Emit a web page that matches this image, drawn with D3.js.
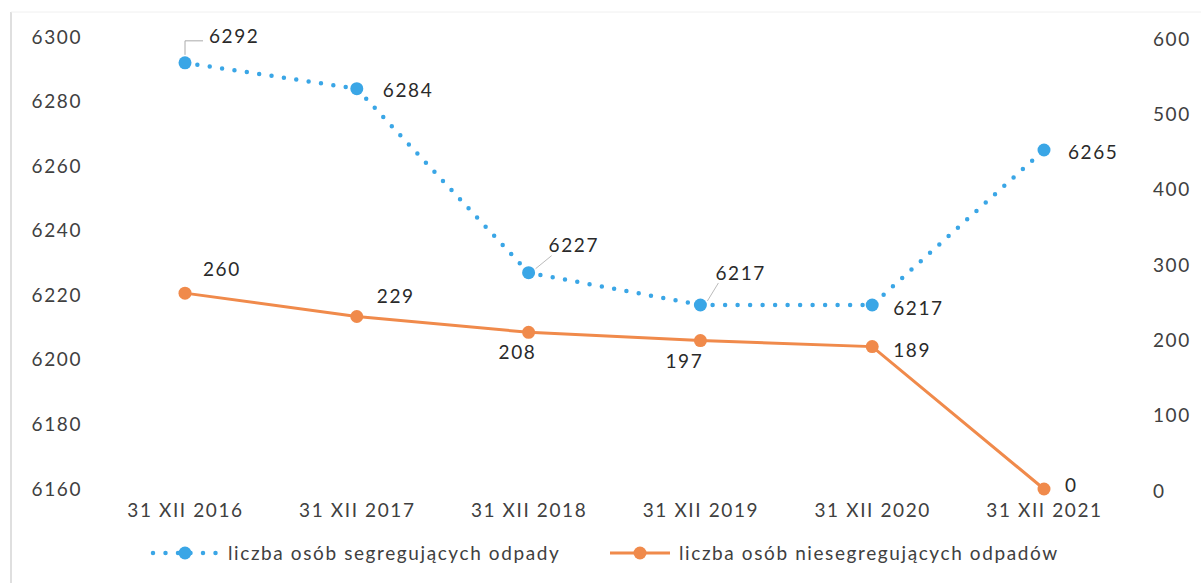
<!DOCTYPE html>
<html>
<head>
<meta charset="utf-8">
<script src="https://cdn.jsdelivr.net/npm/d3@7"></script>
<style>
  body { margin: 0; background: #fff; }
  svg text { font-family: Lato, "Open Sans", sans-serif; letter-spacing: 1.6px; }
</style>
</head>
<body>
<div class="chart"></div>
<script>
// data
const dates = ["31 XII 2016", "31 XII 2017", "31 XII 2018", "31 XII 2019", "31 XII 2020", "31 XII 2021"];
const segregating = [6292, 6284, 6227, 6217, 6217, 6265];
const notSegregating = [260, 229, 208, 197, 189, 0];
const leftTicks = [6160, 6180, 6200, 6220, 6240, 6260, 6280, 6300];
const rightTicks = [0, 100, 200, 300, 400, 500, 600];
const seriesNames = ["liczba osób segregujących odpady", "liczba osób niesegregujących odpadów"];

// label offsets (dx, dy) relative to the point, and whether a leader line is drawn
const blueLabelPos = [[24, -26, true], [26, 2, false], [20, -27, true], [15, -32, true], [21, 3, false], [24, 2, false]];
const orangeLabelPos = [[18, -24], [20, -20], [-30, 20], [-35, 21], [21, 4], [21, -4]];

const width = 1201, height = 583;
const blue = "#3aa6e6", orange = "#f08a4b", textCol = "#404040";

const svg = d3.select(".chart").append("svg")
  .attr("width", width)
  .attr("height", height);

// scanned frame edges
svg.append("line").attr("x1", 11).attr("x2", 11).attr("y1", 12).attr("y2", 583)
  .style("stroke", "#d4d4d4").style("stroke-width", 1.5);
svg.append("line").attr("x1", 11).attr("x2", 1201).attr("y1", 12).attr("y2", 12)
  .style("stroke", "#f0f0f0").style("stroke-width", 1);

const x = d3.scalePoint().domain(dates).range([185, 1044]);
const yL = d3.scaleLinear().domain([6160, 6300]).range([489, 37]);
const yR = d3.scaleLinear().domain([0, 600]).range([489, 37]);

// left axis
const leftAxis = svg.append("g")
  .attr("transform", "translate(82,0)")
  .call(d3.axisLeft(yL).tickValues(leftTicks).tickFormat(d3.format("d")).tickSize(0).tickPadding(0));
leftAxis.select(".domain").remove();
leftAxis.selectAll("text").style("font-size", "19px").style("fill", textCol);

// right axis
const rightAxis = svg.append("g")
  .attr("transform", "translate(1153,2)")
  .call(d3.axisRight(yR).tickValues(rightTicks).tickSize(0).tickPadding(0));
rightAxis.select(".domain").remove();
rightAxis.selectAll("text").style("font-size", "19px").style("fill", textCol);

// category axis
const bottomAxis = svg.append("g")
  .attr("transform", "translate(0,503)")
  .call(d3.axisBottom(x).tickSize(0).tickPadding(0));
bottomAxis.select(".domain").remove();
bottomAxis.selectAll("text").style("font-size", "19px").style("fill", textCol);

// orange line
const orangeLine = d3.line().x((d, i) => x(dates[i])).y(d => yR(d));
svg.append("path")
  .datum(notSegregating)
  .attr("d", orangeLine)
  .attr("fill", "none")
  .style("stroke", orange)
  .style("stroke-width", 3);

svg.selectAll(".orange-dot")
  .data(notSegregating)
  .join("circle")
  .attr("class", "orange-dot")
  .attr("cx", (d, i) => x(dates[i]))
  .attr("cy", d => yR(d))
  .attr("r", 6.5)
  .attr("fill", orange);

// blue dotted line
const blueLine = d3.line().x((d, i) => x(dates[i])).y(d => yL(d));
svg.append("path")
  .datum(segregating)
  .attr("d", blueLine)
  .attr("fill", "none")
  .style("stroke", blue)
  .style("stroke-width", 4.5)
  .style("stroke-linecap", "round")
  .style("stroke-dasharray", "0 12.5");

svg.selectAll(".blue-dot")
  .data(segregating)
  .join("circle")
  .attr("class", "blue-dot")
  .attr("cx", (d, i) => x(dates[i]))
  .attr("cy", d => yL(d))
  .attr("r", 6.5)
  .attr("fill", blue);

// leader lines for blue labels
segregating.forEach((v, i) => {
  const p = blueLabelPos[i];
  if (!p[2]) return;
  const px = x(dates[i]), py = yL(v);
  if (i === 0) {
    svg.append("path")
      .attr("d", `M${px},${py - 8} V${py + p[1] + 4} H${px + p[0] - 6}`)
      .attr("fill", "none").style("stroke", "#aaa").style("stroke-width", 1);
  } else {
    svg.append("line")
      .attr("x1", px + 7).attr("y1", py - 4)
      .attr("x2", px + p[0] + 3).attr("y2", py + p[1] + 10)
      .style("stroke", "#bbb").style("stroke-width", 1);
  }
});

// data labels
svg.selectAll(".blue-label")
  .data(segregating)
  .join("text")
  .attr("class", "blue-label")
  .attr("x", (d, i) => x(dates[i]) + blueLabelPos[i][0])
  .attr("y", (d, i) => yL(d) + blueLabelPos[i][1])
  .attr("dy", "0.35em")
  .style("font-size", "19px")
  .style("fill", "#2a2a2a")
  .text(d => d);

svg.selectAll(".orange-label")
  .data(notSegregating)
  .join("text")
  .attr("class", "orange-label")
  .attr("x", (d, i) => x(dates[i]) + orangeLabelPos[i][0])
  .attr("y", (d, i) => yR(d) + orangeLabelPos[i][1])
  .attr("dy", "0.35em")
  .style("font-size", "19px")
  .style("fill", "#2a2a2a")
  .text(d => d);

// legend
const legend = svg.append("g").attr("transform", "translate(0,553)");
legend.append("line")
  .attr("x1", 153).attr("x2", 218).attr("y1", 0).attr("y2", 0)
  .style("stroke", blue).style("stroke-width", 4.5)
  .style("stroke-linecap", "round").style("stroke-dasharray", "0 12.5");
legend.append("circle").attr("cx", 185).attr("cy", 0).attr("r", 6.5).attr("fill", blue);
legend.append("text").attr("x", 228).attr("y", 0).attr("dy", "0.35em")
  .style("font-size", "19px").style("fill", textCol).text(seriesNames[0]);

legend.append("line")
  .attr("x1", 610).attr("x2", 670).attr("y1", 0).attr("y2", 0)
  .style("stroke", orange).style("stroke-width", 3);
legend.append("circle").attr("cx", 640).attr("cy", 0).attr("r", 6.5).attr("fill", orange);
legend.append("text").attr("x", 679).attr("y", 0).attr("dy", "0.35em")
  .style("font-size", "19px").style("fill", textCol).text(seriesNames[1]);
</script>
</body>
</html>
